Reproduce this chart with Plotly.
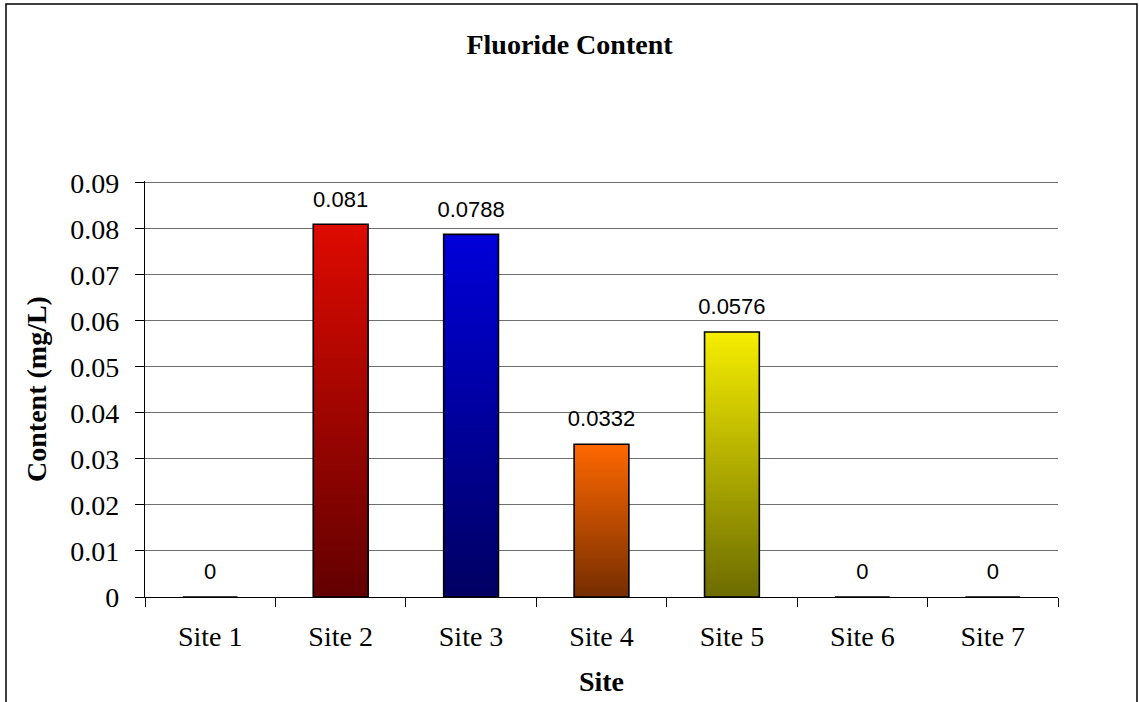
import plotly.graph_objects as go

sites = ["Site 1", "Site 2", "Site 3", "Site 4", "Site 5", "Site 6", "Site 7"]
fluoride = [0, 0.081, 0.0788, 0.0332, 0.0576, 0, 0]
labels = ["0", "0.081", "0.0788", "0.0332", "0.0576", "0", "0"]

# gradient end colours per bar (top, bottom)
top_colors = [(128, 128, 128), (222, 10, 0), (0, 0, 218), (255, 104, 0), (246, 238, 0), (128, 128, 128), (128, 128, 128)]
bottom_colors = [(80, 80, 80), (98, 0, 0), (0, 0, 98), (118, 46, 0), (108, 108, 0), (80, 80, 80), (80, 80, 80)]

N_SLICES = 80


def mix(c1, c2, t):
    return "rgb(%d,%d,%d)" % tuple(round(a + (b - a) * t) for a, b in zip(c1, c2))


fig = go.Figure()

# vertical gradient: nested bars from 0, tallest drawn first so no seams
for i in reversed(range(N_SLICES)):
    t = (i + 0.5) / N_SLICES
    fig.add_trace(
        go.Bar(
            x=sites,
            y=[v * (i + 1) / N_SLICES for v in fluoride],
            marker=dict(color=[mix(b, tc, t) for b, tc in zip(bottom_colors, top_colors)], line=dict(width=0)),
            width=0.42,
            showlegend=False,
            hoverinfo="skip",
        )
    )

# outline
fig.add_trace(
    go.Bar(
        x=sites,
        y=fluoride,
        marker=dict(color="rgba(0,0,0,0)", line=dict(color="black", width=1.6)),
        width=0.42,
        showlegend=False,
    )
)

# data labels
fig.add_trace(
    go.Scatter(
        x=sites,
        y=fluoride,
        mode="markers+text",
        text=labels,
        textposition="top center",
        marker=dict(size=18, opacity=0),
        textfont=dict(family="Liberation Sans, Arial", size=22, color="black"),
        showlegend=False,
        hoverinfo="skip",
    )
)

fig.update_layout(
    width=1139,
    height=702,
    barmode="overlay",
    plot_bgcolor="white",
    paper_bgcolor="white",
    margin=dict(l=145, r=81, t=181, b=105),
    font=dict(family="Liberation Serif, Times New Roman", color="black"),
    title=dict(
        text="<b>Fluoride Content</b>",
        x=0.5,
        xanchor="center",
        y=1 - 44 / 702,
        yanchor="middle",
        font=dict(size=28),
    ),
    xaxis=dict(
        title=dict(text="<b>Site</b>", font=dict(size=28), standoff=20),
        showline=True,
        linecolor="black",
        linewidth=1.3,
        ticks="outside",
        tickson="boundaries",
        ticklen=9,
        tickcolor="black",
        tickfont=dict(size=28),
        ticklabelstandoff=14,
        showgrid=False,
    ),
    yaxis=dict(
        title=dict(text="<b>Content (mg/L)</b>", font=dict(size=28), standoff=15),
        range=[0, 0.0904],
        dtick=0.01,
        showline=True,
        linecolor="black",
        linewidth=1.3,
        ticks="outside",
        ticklen=9,
        tickcolor="black",
        tickfont=dict(size=28),
        ticklabelstandoff=10,
        showgrid=True,
        gridcolor="#6e6e6e",
        gridwidth=1.2,
        zeroline=False,
    ),
    shapes=[
        dict(
            type="rect",
            xref="paper",
            yref="paper",
            x0=(6 - 145) / 913,
            x1=(1137 - 145) / 913,
            y0=(597 - 720) / 416,
            y1=(597 - 4) / 416,
            line=dict(color="black", width=1.5),
            fillcolor="rgba(0,0,0,0)",
            layer="below",
        )
    ],
)

fig.write_html(
    "out.html",
    config={"displayModeBar": False},
    post_script="document.body.style.margin='0';",
)
